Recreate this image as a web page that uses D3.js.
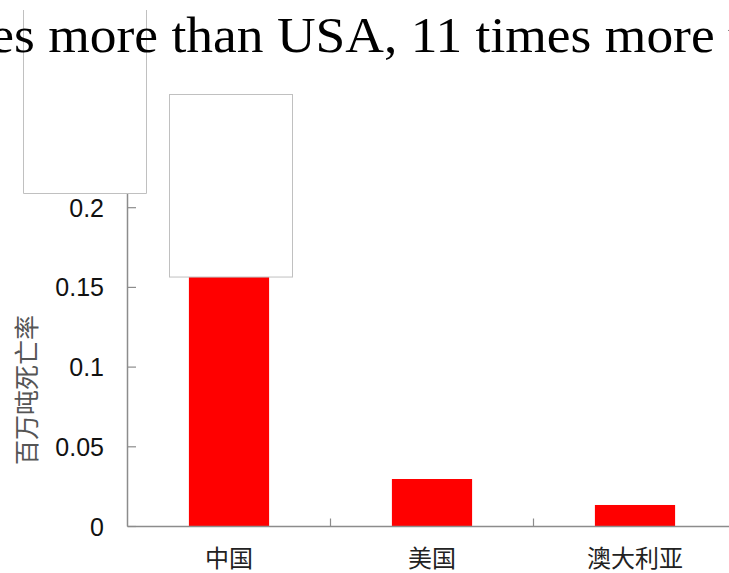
<!DOCTYPE html>
<html>
<head>
<meta charset="utf-8">
<script src="https://cdn.jsdelivr.net/npm/d3@7"></script>
<style>
  body { margin: 0; background: #fff; }
  svg { display: block; }
</style>
</head>
<body>
<div id="chart-area"></div>
<script>
const categories = ["中国", "美国", "澳大利亚"];
const deathRates = [0.1565, 0.0298, 0.0135];
const yTicks = [0, 0.05, 0.1, 0.15, 0.2, 0.25];
const yTickLabels = ["0", "0.05", "0.1", "0.15", "0.2", "0.25"];
const titleText = "es more than USA, 11 times more than Australia";
const yLabel = "百万吨死亡率";

const svgWidth = 729;
const svgHeight = 573;
const svg = d3.select("#chart-area")
              .append("svg")
              .attr("width", svgWidth)
              .attr("height", svgHeight);

const axisColor = "#8c8c8c";

const x = d3.scaleBand()
            .domain(categories)
            .range([127.5, 127.5 + 3 * 203])
            .paddingInner(0)
            .paddingOuter(0);

const y = d3.scaleLinear()
            .domain([0, 0.2])
            .range([526.5, 207.7]);

// y axis
const yAxis = svg.append("g");
yAxis.append("line")
     .attr("x1", 127.5).attr("x2", 127.5)
     .attr("y1", y(0.25)).attr("y2", y(0))
     .attr("stroke", axisColor).attr("stroke-width", 1.5);
yAxis.selectAll("line.tick")
     .data(yTicks)
     .enter()
     .append("line")
     .attr("class", "tick")
     .attr("x1", 127.5).attr("x2", 136)
     .attr("y1", d => y(d)).attr("y2", d => y(d))
     .attr("stroke", axisColor).attr("stroke-width", 1.2);
yAxis.selectAll("text")
     .data(yTicks)
     .enter()
     .append("text")
     .attr("x", 104)
     .attr("y", d => y(d))
     .attr("dy", "0.36em")
     .attr("text-anchor", "end")
     .attr("font-family", "Liberation Sans, Arial, sans-serif")
     .attr("font-size", 25)
     .attr("fill", "#111")
     .text((d, i) => yTickLabels[i]);

svg.append("text")
   .attr("transform", "translate(36,390) rotate(-90)")
   .attr("text-anchor", "middle")
   .attr("font-family", "Noto Sans CJK SC, sans-serif")
   .attr("font-size", 25)
   .attr("fill", "#555")
   .text(yLabel);

// bars
const barWidth = x.bandwidth() * 0.395;
svg.selectAll("rect.bar")
   .data(deathRates)
   .enter()
   .append("rect")
   .attr("class", "bar")
   .attr("x", (d, i) => x(categories[i]) + (x.bandwidth() - barWidth) / 2)
   .attr("y", d => y(d))
   .attr("width", barWidth)
   .attr("height", d => y(0) - y(d))
   .attr("fill", "#ff0000");

// x axis
svg.append("line")
   .attr("x1", 127.5).attr("x2", svgWidth)
   .attr("y1", y(0)).attr("y2", y(0))
   .attr("stroke", axisColor).attr("stroke-width", 1.5);
svg.selectAll("line.xtick")
   .data(categories.slice(1))
   .enter()
   .append("line")
   .attr("class", "xtick")
   .attr("x1", d => x(d)).attr("x2", d => x(d))
   .attr("y1", y(0) - 8).attr("y2", y(0))
   .attr("stroke", axisColor).attr("stroke-width", 1.2);
svg.selectAll("text.xlabel")
   .data(categories)
   .enter()
   .append("text")
   .attr("class", "xlabel")
   .attr("x", d => x(d) + x.bandwidth() / 2)
   .attr("y", 567)
   .attr("text-anchor", "middle")
   .attr("font-family", "Noto Sans CJK SC, sans-serif")
   .attr("font-size", 24)
   .attr("fill", "#222")
   .text(d => d);

// white overlay boxes
svg.append("rect")
   .attr("x", 23.5).attr("y", -5)
   .attr("width", 123).attr("height", 198)
   .attr("fill", "#fff");
svg.append("path")
   .attr("d", "M23.5,10V193.5H146.5V10")
   .attr("fill", "none")
   .attr("stroke", "#c0c0c0").attr("stroke-width", 1);
svg.append("rect")
   .attr("x", 169.5).attr("y", 94.5)
   .attr("width", 123).attr("height", y(deathRates[0]) - 94.5)
   .attr("fill", "#fff")
   .attr("stroke", "#c0c0c0").attr("stroke-width", 1);

// title (cut off in the source)
svg.append("text")
   .attr("transform", "scale(1.07,1)")
   .attr("x", -9.1)
   .attr("y", 52)
   .attr("font-family", "Liberation Serif, Times New Roman, serif")
   .attr("font-size", 50)
   .attr("fill", "#000")
   .text(titleText);
</script>
</body>
</html>
